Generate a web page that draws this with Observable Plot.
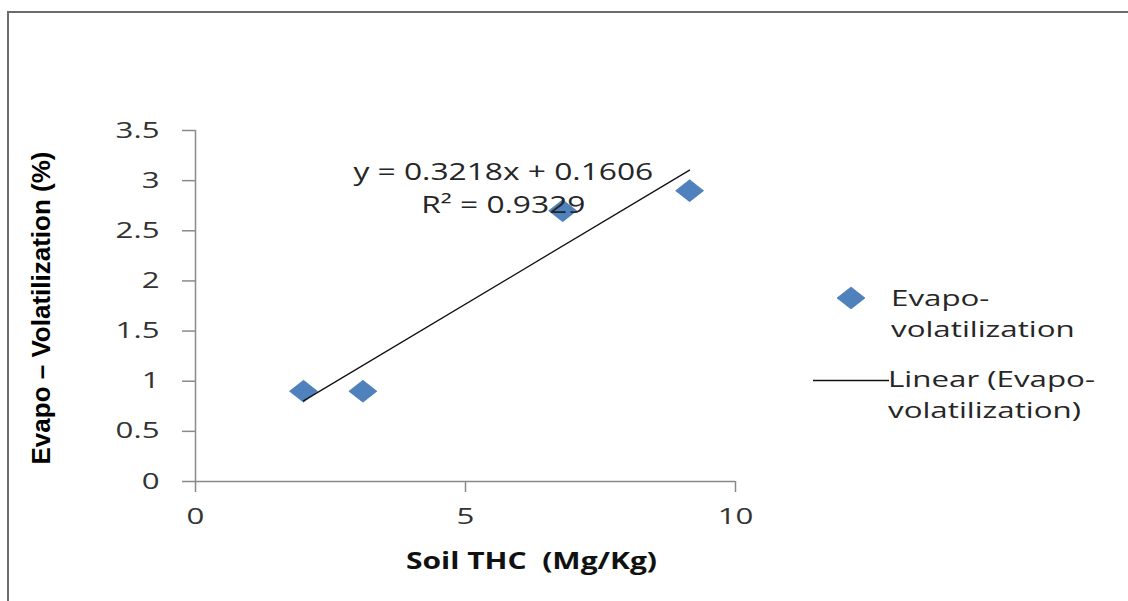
<!DOCTYPE html>
<html>
<head>
<meta charset="utf-8">
<script src="https://cdn.jsdelivr.net/npm/d3@7"></script>
<script src="https://cdn.jsdelivr.net/npm/@observablehq/plot@0.6"></script>
<style>
  html, body { margin: 0; padding: 0; background: #fff; }
  #wrap { position: relative; width: 1128px; height: 601px; overflow: hidden; background: #fff; }
  #frame { position: absolute; left: 7px; top: 11px; width: 1300px; height: 800px; border: 2px solid #6b6b6b; box-sizing: border-box; pointer-events: none; }
  #chart { position: absolute; left: 0; top: 0; }
  svg text { white-space: pre; }
  #legend { position: absolute; left: 0; top: 0; width: 1128px; height: 601px; font-family: "Open Sans", sans-serif; font-size: 21px; color: #262626; pointer-events: none; }
  .lg-text { position: absolute; line-height: 31px; white-space: pre; transform: scaleX(1.49); transform-origin: 0 0; }
  .lg-sym { position: absolute; }
</style>
</head>
<body>
<div id="wrap">
  <div id="chart"></div>
  <div id="legend"></div>
  <div id="frame"></div>
</div>
<script>
// ---- data ----
const soilTHC = [2.0, 3.1, 6.8, 9.15];          // x values (Mg/Kg)
const evapoVol = [0.9, 0.9, 2.7, 2.9];         // y values (%)
const trendSlope = [0.3218];
const trendIntercept = [0.1606];
const trendR2 = [0.9329];
const xTicks = [0, 5, 10];
const xTickLabels = ["0", "5", "10"];
const yTicks = [0, 0.5, 1, 1.5, 2, 2.5, 3, 3.5];
const yTickLabels = ["0", "0.5", "1", "1.5", "2", "2.5", "3", "3.5"];
const seriesLabel = ["Evapo-", "volatilization"];
const trendLabel = ["Linear (Evapo-", "volatilization)"];
const xTitle = "Soil THC  (Mg/Kg)";
const yTitle = "Evapo – Volatilization (%)";

// ---- derived tables ----
const points = soilTHC.map((x, i) => ({x, y: evapoVol[i]}));
const [xmin, xmax] = d3.extent(soilTHC);
const trend = [xmin, xmax].map(x => ({x, y: trendSlope[0] * x + trendIntercept[0]}));
const eqText = `y = ${trendSlope[0]}x + ${trendIntercept[0]}\nR² = ${trendR2[0]}`;

const blue = "#4F81BD";
const axisGray = "#8a8a8a";

const flatDiamond = {
  draw(ctx, size) {
    const w = 14, h = 11;
    ctx.moveTo(0, -h); ctx.lineTo(w, 0); ctx.lineTo(0, h); ctx.lineTo(-w, 0); ctx.closePath();
  }
};

const chart = Plot.plot({
  width: 1128,
  height: 601,
  marginLeft: 195,
  marginRight: 393,
  marginTop: 130,
  marginBottom: 120,
  style: {fontFamily: "'Open Sans', sans-serif", fontSize: "22px", color: "#333", background: "transparent", overflow: "visible"},
  x: {domain: [0, 10], ticks: xTicks, label: null},
  y: {domain: [0, 3.5], ticks: yTicks, label: null},
  marks: [
    Plot.ruleY([0], {stroke: axisGray, strokeWidth: 1.5}),
    Plot.ruleX([0], {stroke: axisGray, strokeWidth: 1.5}),
    Plot.axisX({ticks: xTicks, tickFormat: d => xTickLabels[xTicks.indexOf(d)], tickSize: 11, tickPadding: 16, stroke: axisGray, strokeWidth: 1.5, fill: "#333", label: null}),
    Plot.axisY({ticks: yTicks, tickFormat: d => yTickLabels[yTicks.indexOf(d)], tickSize: 13, tickPadding: 23, stroke: axisGray, strokeWidth: 1.5, fill: "#333", label: null}),
    Plot.dot(points, {x: "x", y: "y", symbol: flatDiamond, r: 8, fill: blue, stroke: "#3d6fa8", strokeWidth: 0.6}),
    Plot.line(trend, {x: "x", y: "y", stroke: "#111", strokeWidth: 1.3}),
    Plot.text([eqText], {x: 5.7, y: 2.95, text: d => d, fontSize: 23, lineHeight: 1.46, lineAnchor: "middle", textAnchor: "middle", fill: "#262626"}),
    Plot.text([xTitle], {frameAnchor: "bottom", dx: 66, dy: 80, text: d => d, fontSize: 24, fontWeight: "bold", lineAnchor: "middle", textAnchor: "middle", fill: "#111"}),
    Plot.text([yTitle], {frameAnchor: "left", dx: -154, dy: 2, rotate: -90, text: d => d, fontFamily: "'Liberation Sans', Arial, sans-serif", fontSize: 26, fontWeight: "bold", lineAnchor: "middle", textAnchor: "middle", fill: "#000"})
  ]
});
document.getElementById("chart").appendChild(chart);

// horizontal glyph stretch seen in the reference image
function stretchEl(t, sx) {
  const tr = t.getAttribute("transform");
  if (tr) {
    t.setAttribute("transform", tr + ` scale(${sx},1)`);
  } else {
    const x = +(t.getAttribute("x") || 0), y = +(t.getAttribute("y") || 0);
    t.removeAttribute("x"); t.removeAttribute("y");
    t.setAttribute("transform", `translate(${x},${y}) scale(${sx},1)`);
  }
}
chart.querySelectorAll("text").forEach(t => {
  const s = t.textContent;
  const isTick = xTickLabels.includes(s) || yTickLabels.includes(s);
  if (isTick) stretchEl(t, 1.42);
  else if (s.startsWith("y = ")) stretchEl(t, 1.38);
  else if (s === xTitle) stretchEl(t, 1.25);
});

// ---- legend (right side) ----
const legend = d3.select("#legend");
legend.append("svg").attr("class", "lg-sym").style("left", "837px").style("top", "287px")
  .attr("width", 28).attr("height", 22)
  .append("path").attr("d", "M14,0 L28,11 L14,22 L0,11 Z").attr("fill", blue).attr("stroke", "#3d6fa8").attr("stroke-width", 0.6);
legend.append("div").attr("class", "lg-text").style("left", "891px").style("top", "283px").text(seriesLabel.join("\n"));
legend.append("svg").attr("class", "lg-sym").style("left", "813px").style("top", "379px")
  .attr("width", 76).attr("height", 3)
  .append("line").attr("x1", 0).attr("x2", 76).attr("y1", 1.5).attr("y2", 1.5).attr("stroke", "#111").attr("stroke-width", 1.3);
legend.append("div").attr("class", "lg-text").style("left", "888px").style("top", "364px").text(trendLabel.join("\n"));
</script>
</body>
</html>
